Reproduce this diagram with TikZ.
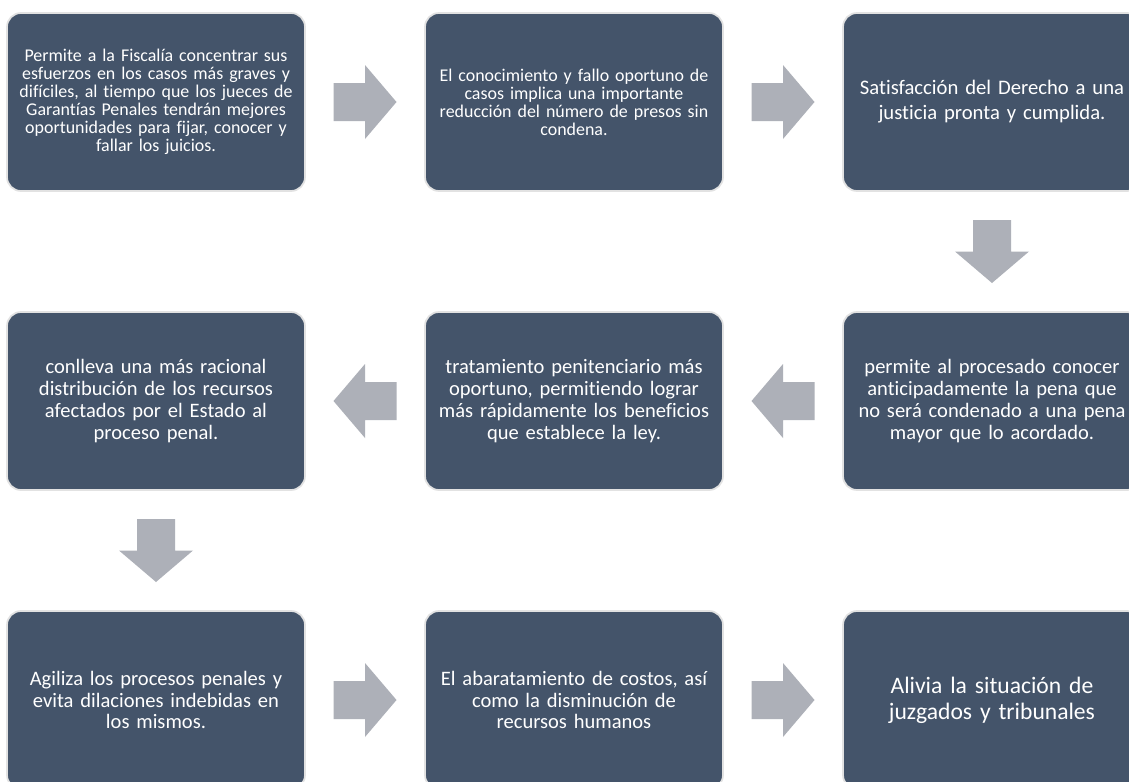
\documentclass[tikz,border=0pt]{standalone}
\usepackage{fontspec}
\setmainfont{Carlito}[Ligatures=CommonOff]
\usetikzlibrary{calc}
\definecolor{boxfill}{RGB}{68,84,106}
\definecolor{boxedge}{RGB}{226,226,226}
\definecolor{arrowfill}{RGB}{173,176,184}
\tikzset{
  box/.style={rectangle, rounded corners=10.5pt, fill=boxfill, draw=boxedge,
    line width=1.3pt, minimum width=223.5pt, minimum height=133.5pt,
    text=white, align=center, inner sep=0pt, text width=220pt},
  small/.style={font=\fontsize{13.45pt}{13.5pt}\selectfont},
  medium/.style={font=\fontsize{15.4pt}{16.3pt}\selectfont},
  large/.style={font=\fontsize{15.5pt}{18.75pt}\selectfont},
  larger/.style={font=\fontsize{17.7pt}{19.3pt}\selectfont},
  blockarrow/.pic={\fill[arrowfill] (-31.5,-19) -- (0,-19) -- (0,-37) -- (31.5,0)
     -- (0,37) -- (0,19) -- (-31.5,19) -- cycle;}
}
\begin{document}
\begin{tikzpicture}[x=0.75pt,y=-0.75pt]
\useasboundingbox (0,0) rectangle (1129,782);
\clip (0,0) rectangle (1129,782);
\fill[white] (0,0) rectangle (1129,782);
% row 1
\node[box,small] (b1) at (156,102) {Permite a la Fiscalía concentrar sus\\esfuerzos en los casos más graves y\\difíciles, al tiempo que los jueces de\\Garantías Penales tendrán mejores\\oportunidades para fijar, conocer y\\fallar los juicios.};
\node[box,small] (b2) at (574,102) {El conocimiento y fallo oportuno de\\casos implica una importante\\reducción del número de presos sin\\condena.};
\node[box,large] (b3) at (992,102) {Satisfacción del Derecho a una\\justicia pronta y cumplida.};
% row 2
\node[box,medium] (b4) at (992,401) {permite al procesado conocer\\anticipadamente la pena que\\no será condenado a una pena\\mayor que lo acordado.};
\node[box,medium] (b5) at (574,401) {tratamiento penitenciario más\\oportuno, permitiendo lograr\\más rápidamente los beneficios\\que establece la ley.};
\node[box,medium] (b6) at (156,401) {conlleva una más racional\\distribución de los recursos\\afectados por el Estado al\\proceso penal.};
% row 3
\node[box,medium] (b7) at (156,700) {Agiliza los procesos penales y\\evita dilaciones indebidas en\\los mismos.};
\node[box,medium] (b8) at (574,700) {El abaratamiento de costos, así\\como la disminución de\\recursos humanos};
\node[box,larger] (b9) at (992,700) {Alivia la situación de\\juzgados y tribunales};
% arrows
\pic at ($(b1.east)!0.5!(b2.west)$) {blockarrow};
\pic at ($(b2.east)!0.5!(b3.west)$) {blockarrow};
\pic[rotate=-90] at ($(b3.south)!0.5!(b4.north)$) {blockarrow};
\pic[rotate=180] at ($(b4.west)!0.5!(b5.east)$) {blockarrow};
\pic[rotate=180] at ($(b5.west)!0.5!(b6.east)$) {blockarrow};
\pic[rotate=-90] at ($(b6.south)!0.5!(b7.north)$) {blockarrow};
\pic at ($(b7.east)!0.5!(b8.west)$) {blockarrow};
\pic at ($(b8.east)!0.5!(b9.west)$) {blockarrow};
\end{tikzpicture}
\end{document}
